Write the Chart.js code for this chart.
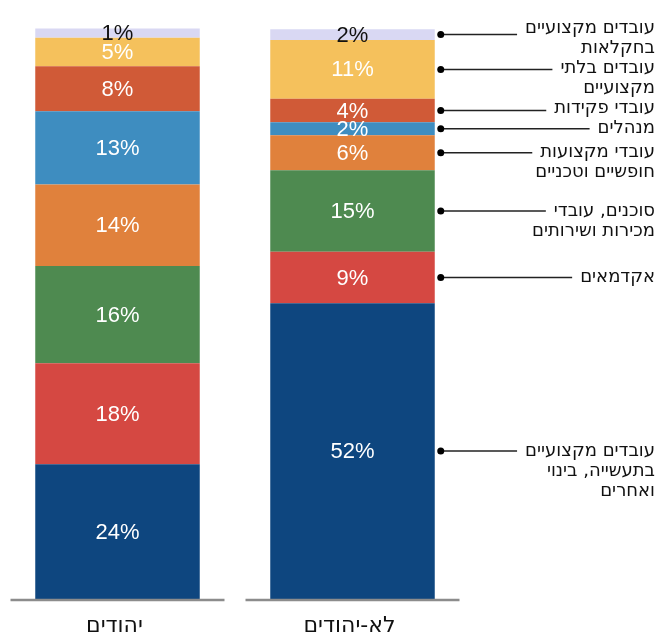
<!DOCTYPE html>
<html>
<head>
<meta charset="utf-8">
<script src="https://cdn.jsdelivr.net/npm/chart.js@4/dist/chart.umd.min.js"></script>
<style>
  html, body { margin: 0; padding: 0; background: #fff; }
  #wrap { width: 659px; height: 632px; }
</style>
</head>
<body>
<div id="wrap"><canvas id="chart" width="659" height="632"></canvas></div>
<script>
// categories (bars, left to right)
const categories = ['יהודים', 'לא-יהודים'];

// occupations, bottom segment first
const occupations = [
  ['עובדים מקצועיים', 'בתעשייה, בינוי', 'ואחרים'],
  ['אקדמאים'],
  ['סוכנים, עובדי', 'מכירות ושירותים'],
  ['עובדי מקצועות', 'חופשיים וטכניים'],
  ['מנהלים'],
  ['עובדי פקידות'],
  ['עובדים בלתי', 'מקצועיים'],
  ['עובדים מקצועיים', 'בחקלאות']
];

// segment heights (%)
const jewsShare    = [23.6, 17.7, 17.0, 14.3, 12.8, 7.9, 5.0, 1.6];
const nonJewsShare = [51.8,  9.0, 14.3,  6.1,  2.3, 4.1, 10.3, 1.9];

// printed labels
const jewsLabels    = [24, 18, 16, 14, 13, 8, 5, 1];
const nonJewsLabels = [52, 9, 15, 6, 2, 4, 11, 2];

const colors = ['#0e467f', '#d54842', '#4e8a50', '#e0813c', '#3e8dc0', '#d05a37', '#f5c15c', '#d9d8f3'];
const labelColors = ['#fff', '#fff', '#fff', '#fff', '#fff', '#fff', '#fff', '#111'];

const datasets = occupations.map((lines, i) => ({
  label: lines.join(' '),
  data: [jewsShare[i], nonJewsShare[i]],
  printed: [jewsLabels[i], nonJewsLabels[i]],
  backgroundColor: colors[i],
  borderWidth: 0,
  barPercentage: 0.70,
  categoryPercentage: 1.0
}));

const NUM_FONT = '22px "Liberation Sans", Arial, sans-serif';
const HEB_FONT = '18px "DejaVu Sans", sans-serif';
const CAT_FONT = '22px "DejaVu Sans", sans-serif';

// values inside bars + baselines + category names + side notes
const decorPlugin = {
  id: 'decor',
  afterDatasetsDraw(chart) {
    const ctx = chart.ctx;
    const area = chart.chartArea;
    const xs = chart.scales.x;
    ctx.save();

    // values
    ctx.font = NUM_FONT;
    ctx.textAlign = 'center';
    ctx.textBaseline = 'middle';
    chart.data.datasets.forEach((ds, i) => {
      const meta = chart.getDatasetMeta(i);
      meta.data.forEach((bar, j) => {
        const p = bar.getProps(['x', 'y', 'base'], true);
        ctx.fillStyle = labelColors[i];
        ctx.fillText(ds.printed[j] + '%', p.x, (p.y + p.base) / 2 + 1);
      });
    });

    // baselines, one per category
    ctx.strokeStyle = '#8c8c8c';
    ctx.lineWidth = 2.5;
    categories.forEach((c, j) => {
      const cx = xs.getPixelForTick(j);
      ctx.beginPath();
      ctx.moveTo(cx - 107, area.bottom + 1);
      ctx.lineTo(cx + 107, area.bottom + 1);
      ctx.stroke();
    });

    // category names
    ctx.font = CAT_FONT;
    ctx.fillStyle = '#111';
    ctx.textBaseline = 'alphabetic';
    ctx.direction = 'rtl';
    categories.forEach((c, j) => {
      ctx.fillText(c, xs.getPixelForTick(j) - 3, chart.height);
    });

    // side notes for the right bar
    const lh = 20;
    const textRight = chart.width - 4;
    const notes = occupations.map((lines, i) => {
      const bar = chart.getDatasetMeta(i).data[1];
      const p = bar.getProps(['x', 'y', 'base', 'width'], true);
      const dotY = (p.y + p.base) / 2;
      return { lines, dotY, dotX: p.x + p.width / 2 + 6, first: dotY };
    });
    // push blocks up so they don't overlap the one below
    for (let i = 1; i < notes.length; i++) {
      const below = notes[i - 1];
      const n = notes[i];
      const last = n.first + (n.lines.length - 1) * lh;
      const limit = below.first - lh;
      if (last > limit) n.first -= (last - limit);
    }
    ctx.font = HEB_FONT;
    ctx.textAlign = 'right';
    ctx.textBaseline = 'middle';
    notes.forEach(n => {
      const w = ctx.measureText(n.lines[0]).width;
      ctx.strokeStyle = '#222';
      ctx.lineWidth = 1.5;
      ctx.beginPath();
      ctx.moveTo(n.dotX, n.dotY);
      ctx.lineTo(textRight - w - 8, n.dotY);
      ctx.stroke();
      ctx.fillStyle = '#000';
      ctx.beginPath();
      ctx.arc(n.dotX, n.dotY, 3.5, 0, Math.PI * 2);
      ctx.fill();
      ctx.fillStyle = '#111';
      n.lines.forEach((t, k) => ctx.fillText(t, textRight, n.first + k * lh));
    });
    ctx.restore();
  }
};

new Chart(document.getElementById('chart'), {
  type: 'bar',
  data: { labels: categories, datasets },
  options: {
    responsive: false,
    animation: false,
    layout: { padding: { top: 28, right: 189, bottom: 33, left: 0 } },
    plugins: { legend: { display: false }, tooltip: { enabled: false } },
    scales: {
      x: {
        stacked: true,
        display: true,
        grid: { display: false, drawTicks: false },
        border: { display: false },
        ticks: { display: false }
      },
      y: {
        stacked: true,
        display: false,
        min: 0,
        max: 100
      }
    }
  },
  plugins: [decorPlugin]
});
</script>
</body>
</html>
